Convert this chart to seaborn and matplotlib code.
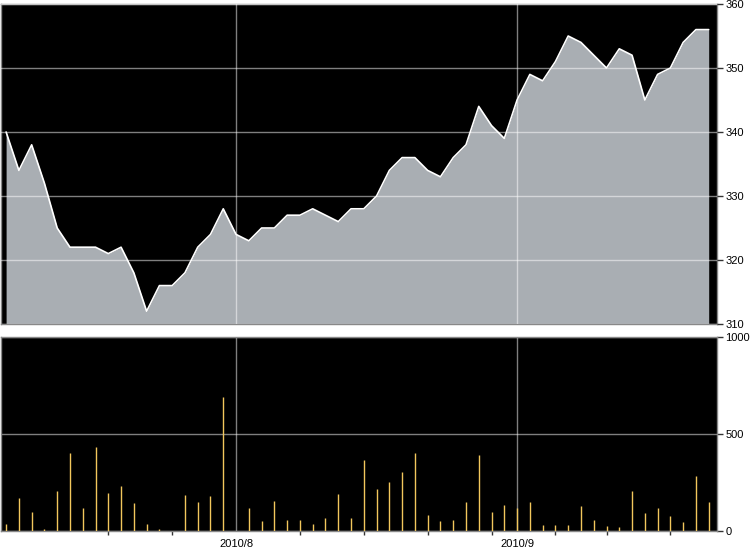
import numpy as np
import pandas as pd
import matplotlib
matplotlib.use("Agg")
import matplotlib.pyplot as plt
import seaborn as sns

# trading days, 2010-07-07 .. 2010-09-23 (US calendar, Labor Day off)
dates = [d for d in pd.bdate_range("2010-07-07", "2010-09-23") if d != pd.Timestamp("2010-09-06")]

close = [340, 334, 338, 332, 325, 322, 322, 322, 321, 322,
         318, 312, 316, 316, 318, 322, 324, 328, 324, 323,
         325, 325, 327, 327, 328, 327, 326, 328, 328, 330,
         334, 336, 336, 334, 333, 336, 338, 344, 341, 339,
         345, 349, 348, 351, 355, 354, 352, 350, 353, 352,
         345, 349, 350, 354, 356, 356]

volume = [34, 169, 96, 12, 204, 400, 118, 431, 195, 234,
          144, 38, 9, 2, 185, 152, 180, 693, 0, 118,
          50, 154, 55, 55, 34, 67, 192, 67, 368, 219,
          252, 303, 404, 80, 50, 55, 152, 390, 98, 132,
          118, 152, 29, 33, 33, 128, 55, 24, 19, 204,
          91, 116, 75, 45, 282, 147]

price_ticks = [310, 320, 330, 340, 350, 360]
volume_ticks = [0, 500, 1000]

df = pd.DataFrame({"date": dates, "close": close, "volume": volume})
df["i"] = np.arange(len(df))

# major ticks: first trading day of a month, minor: first trading day of a week
month_start = df.index[df["date"].dt.month != df["date"].dt.month.shift()].tolist()[1:]
week_key = df["date"].dt.isocalendar().week
week_start = df.index[week_key != week_key.shift()].tolist()[1:]
month_labels = [f"{df.date[k].year}/{df.date[k].month}" for k in month_start]

sns.set_style("dark")
plt.rcParams["font.family"] = ["Liberation Sans", "DejaVu Sans"]

fig = plt.figure(figsize=(7.5, 5.5), dpi=100)
W, H = 750, 550
ax1 = fig.add_axes([1 / W, (H - 324) / H, 716 / W, 320 / H])
ax2 = fig.add_axes([1 / W, (H - 531) / H, 716 / W, 194 / H])

xlim = (-0.40, 55.65)
grid_kw = dict(color="white", alpha=0.5, linewidth=1)

# price panel
ax1.set_facecolor("black")
ax1.fill_between(df["i"], df["close"], 310, color="#a9aeb3", linewidth=0, zorder=1)
sns.lineplot(data=df, x="i", y="close", ax=ax1, color="white", linewidth=1.2, zorder=3)
ax1.set_xlim(*xlim)
ax1.set_ylim(310, 360)
ax1.set_yticks(price_ticks)
ax1.set_xticks(month_start)
ax1.set_axisbelow(False)
ax1.grid(True, **grid_kw)
ax1.yaxis.tick_right()
ax1.tick_params(axis="x", length=0, labelbottom=False)

# volume panel
ax2.set_facecolor("black")
ax2.vlines(df["i"], 0, df["volume"], color="#f2c75c", linewidth=1, zorder=3)
ax2.set_xlim(*xlim)
ax2.set_ylim(0, 1000)
ax2.set_yticks(volume_ticks)
ax2.set_xticks(month_start)
ax2.set_xticklabels(month_labels)
ax2.set_xticks(week_start, minor=True)
ax2.set_axisbelow(True)
ax2.grid(True, which="major", **grid_kw)
ax2.yaxis.tick_right()
ax2.tick_params(axis="x", which="major", length=5, width=1, color="#333333", pad=1)
ax2.tick_params(axis="x", which="minor", length=3, width=1, color="#333333", bottom=True)

for ax in (ax1, ax2):
    ax.set_xlabel("")
    ax.set_ylabel("")
    ax.tick_params(axis="y", which="major", length=4, width=1, color="#333333",
                   pad=2, right=True, left=False, labelright=True, labelleft=False)
    ax.tick_params(labelsize=8, labelcolor="black")
    for s in ax.spines.values():
        s.set_visible(True)
        s.set_color("#888888")
        s.set_linewidth(1)

fig.savefig("out.png", dpi=100, facecolor="white")
